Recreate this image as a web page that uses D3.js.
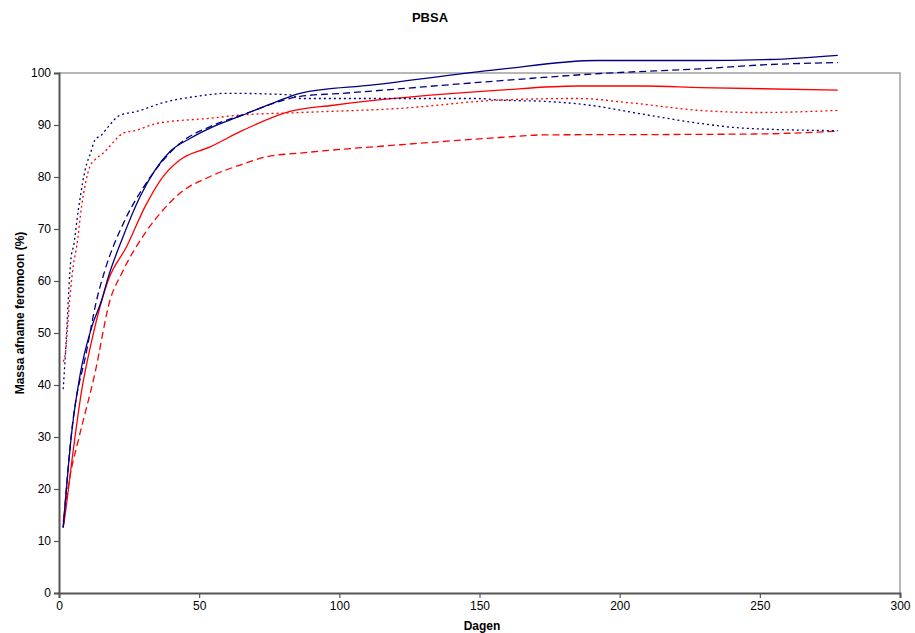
<!DOCTYPE html>
<html><head><meta charset="utf-8">
<script src="https://cdn.jsdelivr.net/npm/d3@7"></script>
<style>body{margin:0;background:#fff;} svg{display:block;font-family:"Liberation Sans",Arial,sans-serif;}</style>
</head><body>
<script>
const xTicks = [0,50,100,150,200,250,300];
const yTicks = [0,10,20,30,40,50,60,70,80,90,100];

const blueSolidDays = [1.5,4.5,7.5,11.7,15.2,17.6,22.4,28.9,39.6,46.7,53.9,64.6,77.7,86,112,157,191.8,228.7,253.7,277.8];
const blueSolidVals = [12.6,30.7,41.9,51.2,56.3,60.8,67.9,76.2,84.9,87.4,89.4,91.7,94.5,96.1,97.7,100.7,102.4,102.4,102.6,103.4];

const blueDashDays = [1.5,4.5,9.9,13.4,16.4,23.5,30.7,43.2,53.9,64.6,86,101.3,157,193,228.7,252.5,277.8];
const blueDashVals = [12.6,31,46.7,56.3,62.1,71.7,78.5,86.5,89.7,91.8,95.5,96.1,98.5,99.9,100.8,101.6,102];

const blueDotDays = [1.5,2.1,4.5,5.1,6.9,9.9,11,12.8,15.2,17.6,21.8,27.7,37.2,50.3,59.8,82.4,86,149,157,175,189.4,207,228.7,244,277.8];
const blueDotVals = [39.2,44.2,65.3,66.5,73.7,82.6,84.2,87.1,88.1,89.7,91.9,92.6,94.3,95.6,96.1,95.8,95.1,95.1,94.8,94.5,93.8,92.2,90.3,89.4,88.9];

const redSolidDays = [1.5,1.9,5.1,8.1,11.7,17.6,24.1,30.7,36.6,43.2,53.9,65.7,82.4,97.9,157.3,184.7,208.4,228.7,277.8];
const redSolidVals = [12.6,14,27.5,39,48.6,60.2,66.6,74.3,79.7,83.3,85.8,89,92.6,93.8,96.7,97.5,97.5,97.2,96.7];

const redDashDays = [1.5,3.9,6.9,12.8,18.2,22.4,30.7,37.2,43.2,53.9,64.6,74.1,86,121.7,157.3,172.8,228.7,252.5,277.8];
const redDashVals = [13.7,22.4,29.4,42.2,56.3,61.5,69.2,73.7,76.9,80.1,82.3,83.9,84.6,86.2,87.6,88.1,88.2,88.3,88.8];

const redDotDays = [1.5,2.1,3.9,5.1,6.3,8.1,11,12.8,15.8,22.9,27.7,34.8,53.9,64.6,86,121.7,157.3,184.7,204.8,228.7,249,277.8];
const redDotVals = [44.5,45.5,57,63,66.6,74.5,82,83.3,84.6,88.4,89,90.3,91.3,91.9,92.4,93.2,94.8,95.1,94.2,92.8,92.4,92.8];

const seriesList = [
  {days: redDashDays, vals: redDashVals, color: "#ff0000", dash: "7,4"},
  {days: redDotDays, vals: redDotVals, color: "#ff0000", dash: "2,3"},
  {days: redSolidDays, vals: redSolidVals, color: "#ff0000", dash: null},
  {days: blueDotDays, vals: blueDotVals, color: "#000080", dash: "2,3"},
  {days: blueDashDays, vals: blueDashVals, color: "#000080", dash: "7,4"},
  {days: blueSolidDays, vals: blueSolidVals, color: "#000080", dash: null}
];

const W = 915, H = 633;
const L = 59, R = 900, T = 73, B = 593;
const svg = d3.select("body").append("svg").attr("width", W).attr("height", H);

const x = d3.scaleLinear().domain([0,300]).range([L,R]);
const y = d3.scaleLinear().domain([0,100]).range([B,T]);

svg.append("path").attr("d", `M${L},${T}H${R}V${B}`).attr("fill","none").attr("stroke","#a0a0a0").attr("stroke-width",1.5);

const xAxis = svg.append("g").attr("transform", `translate(0,${B})`)
  .call(d3.axisBottom(x).tickValues(xTicks).tickSize(5).tickPadding(3));
const yAxis = svg.append("g").attr("transform", `translate(${L},0)`)
  .call(d3.axisLeft(y).tickValues(yTicks).tickSize(5).tickPadding(3));
[xAxis, yAxis].forEach(g => {
  g.select(".domain").attr("stroke","#555").attr("stroke-width",2);
  g.selectAll(".tick line").attr("stroke","#555").attr("stroke-width",1.2);
  g.selectAll(".tick text").attr("font-size",12).attr("fill","#000").attr("font-family","Liberation Sans, Arial, sans-serif");
});

const line = d3.line().x(d => x(d[0])).y(d => y(d[1])).curve(d3.curveMonotoneX);
seriesList.forEach(s => {
  const pts = s.days.map((d,i) => [d, s.vals[i]]);
  svg.append("path").datum(pts).attr("d", line).attr("fill","none")
    .attr("stroke", s.color).attr("stroke-width",1.3)
    .attr("stroke-linejoin","round")
    .attr("stroke-dasharray", s.dash);
});

svg.append("text").attr("x",430).attr("y",22).attr("text-anchor","middle")
  .attr("font-size",13).attr("font-weight","bold").text("PBSA");
svg.append("text").attr("x",482).attr("y",630).attr("text-anchor","middle")
  .attr("font-size",12).attr("font-weight","bold").text("Dagen");
svg.append("text").attr("transform","translate(24,313) rotate(-90)").attr("text-anchor","middle")
  .attr("font-size",12).attr("font-weight","bold").text("Massa afname feromoon (%)");
</script>
</body></html>
